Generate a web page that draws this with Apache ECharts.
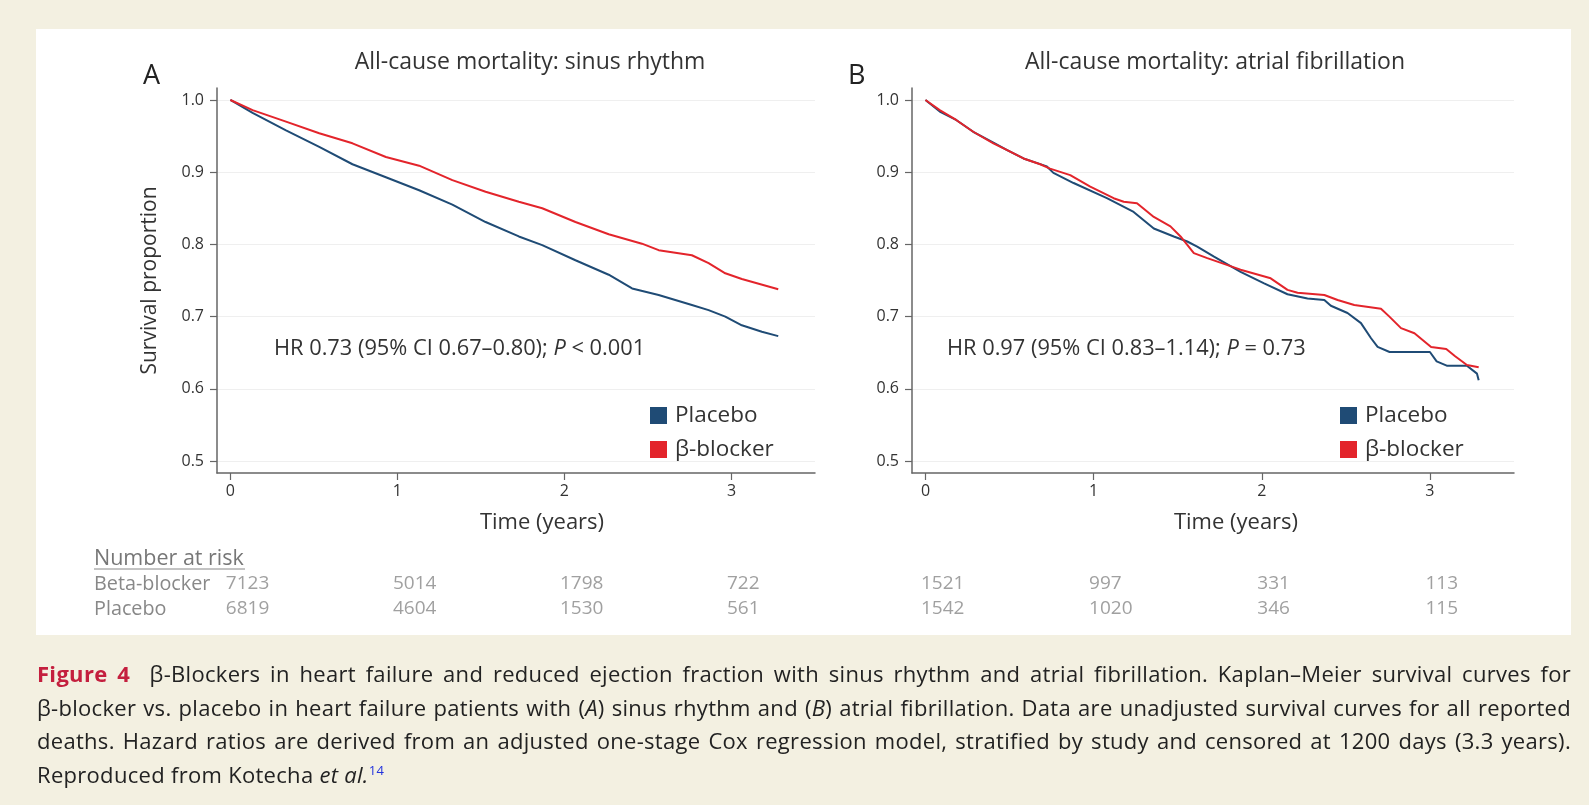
<!DOCTYPE html>
<html>
<head>
<meta charset="utf-8">
<title>Figure 4</title>
<script src="https://cdn.jsdelivr.net/npm/echarts@6.0.0/dist/echarts.min.js"></script>
<style>
  html, body { margin: 0; padding: 0; background: #f3f0e1; }
  #main { position: absolute; left: 0; top: 0; width: 1589px; height: 805px; }
  #caption { position: absolute; left: 37px; top: 657px; width: 1534px; font-family: "Open Sans", Lato, sans-serif; font-size: 22px; letter-spacing: 0.3px; color: #222; line-height: 33.7px; }
  #caption .ln { text-align: justify; text-align-last: justify; white-space: nowrap; height: 33.7px; }
  #caption .fig { color: #c41f3e; font-weight: bold; }
  #caption sup { color: #2233dd; font-size: 13px; line-height: 0; }
</style>
</head>
<body>
<div id="main"></div>
<div id="caption">
  <div class="ln"><b class="fig">Figure 4</b>&nbsp; β-Blockers in heart failure and reduced ejection fraction with sinus rhythm and atrial fibrillation. Kaplan–Meier survival curves for</div>
  <div class="ln">β-blocker vs. placebo in heart failure patients with (<i>A</i>) sinus rhythm and (<i>B</i>) atrial fibrillation. Data are unadjusted survival curves for all reported</div>
  <div class="ln">deaths. Hazard ratios are derived from an adjusted one-stage Cox regression model, stratified by study and censored at 1200 days (3.3 years).</div>
  <div>Reproduced from Kotecha <i>et al.</i><sup>14</sup></div>
</div>
<script>
// survival curves (time in years, survival proportion)
var timeA_placebo = [0, 0.133, 0.333, 0.532, 0.731, 0.931, 1.13, 1.329, 1.528, 1.727, 1.867, 2.066, 2.265, 2.405, 2.564, 2.763, 2.863, 2.963, 3.062, 3.182, 3.28];
var survA_placebo = [1.0, 0.982, 0.958, 0.935, 0.911, 0.893, 0.875, 0.855, 0.831, 0.811, 0.799, 0.778, 0.758, 0.739, 0.730, 0.716, 0.709, 0.700, 0.688, 0.679, 0.673];
var timeA_beta = [0, 0.133, 0.333, 0.532, 0.731, 0.931, 1.13, 1.329, 1.528, 1.727, 1.867, 2.066, 2.265, 2.464, 2.564, 2.763, 2.863, 2.963, 3.062, 3.28];
var survA_beta = [1.0, 0.986, 0.970, 0.954, 0.940, 0.921, 0.909, 0.889, 0.873, 0.859, 0.850, 0.831, 0.814, 0.801, 0.792, 0.785, 0.774, 0.760, 0.752, 0.738];

var timeB_placebo = [0, 0.085, 0.185, 0.284, 0.404, 0.483, 0.583, 0.722, 0.761, 0.881, 1.079, 1.238, 1.358, 1.477, 1.557, 1.616, 1.716, 1.874, 2.014, 2.153, 2.272, 2.372, 2.411, 2.510, 2.590, 2.650, 2.689, 2.76, 3.0, 3.04, 3.1, 3.22, 3.28, 3.29];
var survB_placebo = [1.0, 0.984, 0.972, 0.956, 0.941, 0.931, 0.919, 0.908, 0.899, 0.885, 0.864, 0.845, 0.822, 0.811, 0.804, 0.797, 0.783, 0.762, 0.746, 0.731, 0.725, 0.723, 0.715, 0.705, 0.691, 0.670, 0.658, 0.651, 0.651, 0.638, 0.632, 0.632, 0.621, 0.612];
var timeB_beta = [0, 0.085, 0.185, 0.284, 0.404, 0.483, 0.583, 0.682, 0.741, 0.861, 0.980, 1.119, 1.179, 1.258, 1.358, 1.457, 1.517, 1.596, 1.676, 1.874, 2.053, 2.153, 2.213, 2.372, 2.451, 2.550, 2.709, 2.759, 2.828, 2.908, 3.007, 3.097, 3.15, 3.22, 3.29];
var survB_beta = [1.0, 0.986, 0.972, 0.956, 0.940, 0.931, 0.919, 0.911, 0.905, 0.896, 0.880, 0.864, 0.859, 0.857, 0.838, 0.825, 0.811, 0.788, 0.781, 0.765, 0.753, 0.737, 0.733, 0.730, 0.723, 0.716, 0.711, 0.700, 0.684, 0.677, 0.658, 0.655, 0.645, 0.633, 0.630];

// number at risk table
var riskTimes = [0, 1, 2, 3];
var riskRows = ['Placebo', 'Beta-blocker'];
var riskA_beta = [7123, 5014, 1798, 722];
var riskA_placebo = [6819, 4604, 1530, 561];
var riskB_beta = [1521, 997, 331, 113];
var riskB_placebo = [1542, 1020, 346, 115];

var xTicks = [0, 1, 2, 3];
var yTicks = [0.5, 0.6, 0.7, 0.8, 0.9, 1.0];

var FONT = '"Open Sans", Lato, sans-serif';
var BLUE = '#1f4b75';
var RED = '#e3242b';
var AXIS = '#666';

function pairs(t, v) {
  return t.map(function (x, i) { return [x, v[i]]; });
}
function riskData(beta, placebo) {
  var out = [];
  riskTimes.forEach(function (t, i) {
    out.push([t, 'Beta-blocker', beta[i]]);
    out.push([t, 'Placebo', placebo[i]]);
  });
  return out;
}

function plotX(grid, shift) {
  return {
    gridIndex: grid, type: 'value', min: -0.08, max: 3.5,
    axisLine: { show: true, onZero: false, lineStyle: { color: AXIS, width: 1.5 } },
    axisTick: { show: true, length: 7, customValues: xTicks, lineStyle: { color: AXIS, width: 1.2 } },
    axisLabel: { customValues: xTicks, margin: 10, fontSize: 16, color: '#333', fontFamily: FONT },
    splitLine: { show: false },
    name: 'Time (years)', nameLocation: 'middle', nameGap: 39,
    nameTextStyle: { fontSize: 22, color: '#333', fontFamily: FONT, padding: [0, 0, 0, shift] }
  };
}
function plotY(grid, withName) {
  return {
    gridIndex: grid, type: 'value', min: 0.4834, max: 1.0166,
    axisLine: { show: true, onZero: false, lineStyle: { color: AXIS, width: 1.5 } },
    axisTick: { show: true, length: 7, customValues: yTicks, lineStyle: { color: AXIS, width: 1.2 } },
    axisLabel: { customValues: yTicks, margin: 13, fontSize: 16, color: '#333', fontFamily: FONT,
      formatter: function (v) { return v.toFixed(1); } },
    splitLine: { show: true, lineStyle: { color: '#efefef', width: 1 } },
    name: withName ? 'Survival proportion' : '', nameLocation: 'middle', nameGap: 56,
    nameTextStyle: { fontSize: 21, color: '#333', fontFamily: FONT }
  };
}
function riskX(grid) {
  return { gridIndex: grid, type: 'value', min: -0.08, max: 3.5, show: false };
}
function riskY(grid, showRows) {
  return {
    gridIndex: grid, type: 'category', data: riskRows,
    axisLine: { show: false }, axisTick: { show: false }, splitLine: { show: false },
    axisLabel: { show: showRows, interval: 0, hideOverlap: false, align: 'left', margin: 123,
      fontSize: 19.8, color: '#888', fontFamily: FONT }
  };
}
function curve(name, color, xi, t, v) {
  return {
    name: name, type: 'line', xAxisIndex: xi, yAxisIndex: xi,
    data: pairs(t, v), showSymbol: false, symbol: 'none',
    color: color, lineStyle: { color: color, width: 2 }, z: 3
  };
}
function riskSeries(xi, beta, placebo) {
  return {
    name: 'risk' + xi, type: 'scatter', xAxisIndex: xi, yAxisIndex: xi,
    data: riskData(beta, placebo), symbolSize: 1, itemStyle: { color: 'rgba(0,0,0,0)' },
    label: { show: true, position: [-4, 0], align: 'left', verticalAlign: 'middle',
      fontSize: 19, color: '#888', fontFamily: FONT,
      formatter: function (p) { return p.value[2]; } }
  };
}
function legendAt(left) {
  return {
    data: ['Placebo', 'β-blocker'], orient: 'vertical', left: left, top: 404, padding: 0,
    icon: 'rect', itemWidth: 17, itemHeight: 17, itemGap: 11, selectedMode: false,
    textStyle: { fontSize: 22.5, color: '#333', fontFamily: FONT, padding: [0, 0, 0, 3] }
  };
}

var myChart = echarts.init(document.getElementById('main'));

var option = {
  backgroundColor: '#f3f0e1',
  animation: false,
  title: [
    { text: 'All-cause mortality: sinus rhythm', left: 530, top: 51, textAlign: 'center', padding: 0,
      textStyle: { fontSize: 23, fontWeight: 'normal', color: '#333', fontFamily: FONT } },
    { text: 'All-cause mortality: atrial fibrillation', left: 1215, top: 51, textAlign: 'center', padding: 0,
      textStyle: { fontSize: 23, fontWeight: 'normal', color: '#333', fontFamily: FONT } },
    { text: 'A', left: 143, top: 63, padding: 0,
      textStyle: { fontSize: 27, fontWeight: 'normal', color: '#222', fontFamily: FONT } },
    { text: 'B', left: 848, top: 63, padding: 0,
      textStyle: { fontSize: 27, fontWeight: 'normal', color: '#222', fontFamily: FONT } }
  ],
  legend: [legendAt(650), legendAt(1340)],
  grid: [
    { left: 217, top: 88, width: 598, height: 385 },
    { left: 912, top: 88, width: 602, height: 385 },
    { left: 217, top: 572, width: 598, height: 50 },
    { left: 912, top: 572, width: 602, height: 50 }
  ],
  xAxis: [plotX(0, 52), plotX(1, 46), riskX(2), riskX(3)],
  yAxis: [plotY(0, true), plotY(1, false), riskY(2, true), riskY(3, false)],
  series: [
    curve('Placebo', BLUE, 0, timeA_placebo, survA_placebo),
    curve('β-blocker', RED, 0, timeA_beta, survA_beta),
    curve('Placebo', BLUE, 1, timeB_placebo, survB_placebo),
    curve('β-blocker', RED, 1, timeB_beta, survB_beta),
    riskSeries(2, riskA_beta, riskA_placebo),
    riskSeries(3, riskB_beta, riskB_placebo)
  ],
  graphic: [
    { type: 'rect', left: 36, top: 29, z: -10, shape: { width: 1535, height: 606 }, style: { fill: '#ffffff' } },
    { type: 'text', left: 274, top: 338, style: { text: 'HR 0.73 (95% CI 0.67–0.80); {i|P} < 0.001',
        fill: '#333', font: '21.8px ' + FONT, rich: { i: { fontStyle: 'italic', fontSize: 21.8, fill: '#333', fontFamily: FONT } } } },
    { type: 'text', left: 947, top: 338, style: { text: 'HR 0.97 (95% CI 0.83–1.14); {i|P} = 0.73',
        fill: '#333', font: '21.8px ' + FONT, rich: { i: { fontStyle: 'italic', fontSize: 21.8, fill: '#333', fontFamily: FONT } } } },
    { type: 'text', left: 94, top: 548, style: { text: 'Number at risk', fill: '#777', font: '21.5px ' + FONT } },
    { type: 'line', shape: { x1: 94, y1: 569, x2: 245, y2: 569 }, style: { stroke: '#888', lineWidth: 1 } }
  ]
};

myChart.setOption(option);
</script>
</body>
</html>
